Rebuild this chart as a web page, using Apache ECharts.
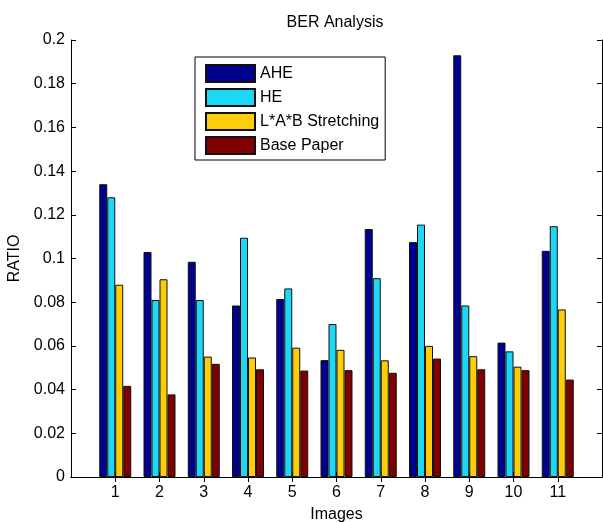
<!DOCTYPE html>
<html>
<head>
<meta charset="utf-8">
<script src="https://cdn.jsdelivr.net/npm/echarts@6/dist/echarts.min.js"></script>
<style>
html,body{margin:0;padding:0;background:#fff;}
#chart{width:603px;height:522px;}
</style>
</head>
<body>
<div id="chart"></div>
<script>
var categories = ['1','2','3','4','5','6','7','8','9','10','11'];
var AHE  = [0.134, 0.103, 0.0985, 0.0785, 0.0815, 0.0535, 0.1135, 0.1075, 0.193, 0.0615, 0.1035];
var HE   = [0.128, 0.081, 0.081, 0.1095, 0.0863, 0.070, 0.091, 0.1155, 0.0785, 0.0575, 0.1148];
var LAB  = [0.088, 0.0905, 0.0551, 0.0547, 0.0592, 0.0582, 0.0534, 0.060, 0.0553, 0.0505, 0.0767];
var BASE = [0.0417, 0.0378, 0.0518, 0.0493, 0.0487, 0.0489, 0.0477, 0.0542, 0.0493, 0.0489, 0.0446];
var yTicks = [0, 0.02, 0.04, 0.06, 0.08, 0.1, 0.12, 0.14, 0.16, 0.18, 0.2];

// MATLAB xlim [0 12]: pad categories with empty slots at both ends
var axisCats = [''].concat(categories, ['']);
function pad(arr){ return [null].concat(arr, [null]); }
var lastIdx = axisCats.length - 1;
function innerTick(i){ return i > 0 && i < lastIdx; }

var FONT = "'Liberation Sans', Arial, sans-serif";
var FS = 16;
var chart = echarts.init(document.getElementById('chart'));
function bar(name, data, color){
  return {
    name: name, type: 'bar', data: pad(data),
    xAxisIndex: 0, yAxisIndex: 0,
    barWidth: 8, barGap: '0%',
    itemStyle: {color: color, borderColor: '#111', borderWidth: 1},
    emphasis: {disabled: true}
  };
}
chart.setOption({
  animation: false,
  backgroundColor: '#fff',
  textStyle: {fontFamily: FONT},
  title: {
    text: 'BER Analysis', left: 330, top: 10, textAlign: 'center',
    textStyle: {fontSize: FS, fontWeight: 'normal', color: '#000', fontFamily: FONT}
  },
  legend: {
    orient: 'vertical', left: 195, top: 57,
    icon: 'rect',
    itemWidth: 49, itemHeight: 17, itemGap: 5,
    padding: [7, 6, 5, 10],
    borderColor: '#000', borderWidth: 1, backgroundColor: '#fff',
    textStyle: {fontSize: FS, color: '#000', fontFamily: FONT, lineHeight: 17},
    data: ['AHE', 'HE', 'L*A*B Stretching', 'Base Paper']
  },
  grid: {left: 71, right: 1, top: 40, bottom: 45, outerBoundsMode: 'none', containLabel: false},
  xAxis: [{
    type: 'category', data: axisCats, boundaryGap: false, position: 'bottom',
    name: 'Images', nameLocation: 'middle', nameGap: 30,
    nameTextStyle: {fontSize: FS, color: '#000', fontFamily: FONT},
    axisLine: {show: true, lineStyle: {color: '#000', width: 1}},
    axisTick: {show: true, inside: true, length: 5, interval: innerTick, lineStyle: {color: '#000'}},
    axisLabel: {interval: 0, fontSize: FS, color: '#000', margin: 8, fontFamily: FONT},
    splitLine: {show: false}
  }, {
    type: 'category', data: axisCats, boundaryGap: false, position: 'top',
    axisLine: {show: true, lineStyle: {color: '#000', width: 1}},
    axisTick: {show: true, inside: true, length: 5, interval: innerTick, lineStyle: {color: '#000'}},
    axisLabel: {show: false},
    splitLine: {show: false}
  }],
  yAxis: [{
    type: 'value', min: 0, max: 0.2, interval: 0.02, position: 'left',
    name: 'RATIO', nameLocation: 'middle', nameGap: 45,
    nameTextStyle: {fontSize: FS, color: '#000', fontFamily: FONT},
    axisLine: {show: true, lineStyle: {color: '#000', width: 1}},
    axisTick: {show: true, inside: true, length: 5, lineStyle: {color: '#000'}},
    axisLabel: {
      fontSize: FS, color: '#000', margin: 6, fontFamily: FONT,
      customValues: yTicks,
      formatter: function(v){ return String(parseFloat(v.toFixed(2))); }
    },
    splitLine: {show: false}
  }, {
    type: 'value', min: 0, max: 0.2, interval: 0.02, position: 'right',
    axisLine: {show: true, lineStyle: {color: '#000', width: 1}},
    axisTick: {show: true, inside: true, length: 5, lineStyle: {color: '#000'}},
    axisLabel: {show: false},
    splitLine: {show: false}
  }],
  series: [
    bar('AHE', AHE, '#00008F'),
    bar('HE', HE, '#1ED6F6'),
    bar('L*A*B Stretching', LAB, '#FFCC0A'),
    bar('Base Paper', BASE, '#7F0000')
  ]
});
</script>
</body>
</html>
